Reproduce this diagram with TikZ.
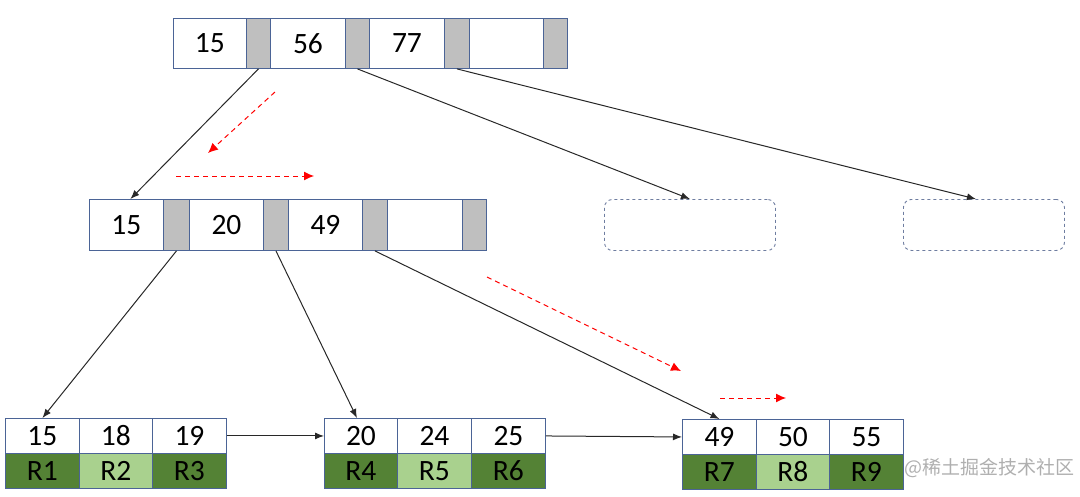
\documentclass[tikz,border=0pt]{standalone}
\usepackage{fontspec}
\setmainfont{Carlito}
\newfontfamily\cjk{Noto Sans CJK SC}
\usetikzlibrary{arrows.meta}
\definecolor{cellborder}{RGB}{75,100,150}
\definecolor{ptrgray}{RGB}{191,191,191}
\definecolor{dgreen}{RGB}{84,130,53}
\definecolor{lgreen}{RGB}{169,209,142}
\definecolor{dashbox}{RGB}{110,125,160}
\definecolor{linkc}{RGB}{40,40,40}
\definecolor{wm}{RGB}{175,175,175}
\tikzset{
  cellbox/.style={draw=cellborder, line width=0.9pt, anchor=north west, inner sep=0pt, font=\fontsize{29.5}{32}\selectfont, text=black},
  ptr/.style={cellbox, fill=ptrgray},
  keyc/.style={cellbox, fill=white},
  dg/.style={cellbox, fill=dgreen},
  lg/.style={cellbox, fill=lgreen},
  emptybox/.style={draw=dashbox, dashed, line width=0.9pt, rounded corners=8pt, anchor=north west, minimum width=171pt, minimum height=51pt, inner sep=0pt},
  link/.style={draw=linkc, line width=1pt, -{Latex[length=9pt,width=7pt]}},
  redarrow/.style={draw=red, line width=1pt, dash pattern=on 5pt off 4pt, -{Latex[length=10pt,width=9pt]}}
}
\begin{document}
\begin{tikzpicture}[x=1pt,y=-1pt]
\useasboundingbox (0,0) rectangle (1080,496);
% top node
\node[keyc, minimum width=73pt, minimum height=50pt] (t1) at (173,18) {15};
\node[ptr, minimum width=24pt, minimum height=50pt] (tg1) at (246,18) {};
\node[keyc, minimum width=75pt, minimum height=50pt] (t2) at (270,18) {56};
\node[ptr, minimum width=24pt, minimum height=50pt] (tg2) at (345,18) {};
\node[keyc, minimum width=75pt, minimum height=50pt] (t3) at (369,18) {77};
\node[ptr, minimum width=25pt, minimum height=50pt] (tg3) at (444,18) {};
\node[keyc, minimum width=74pt, minimum height=50pt] (t4) at (469,18) {};
\node[ptr, minimum width=24pt, minimum height=50pt] (tg4) at (543,18) {};
% middle node
\node[keyc, minimum width=74pt, minimum height=51pt] (m1) at (89,199) {15};
\node[ptr, minimum width=26pt, minimum height=51pt] (mg1) at (163,199) {};
\node[keyc, minimum width=74pt, minimum height=51pt] (m2) at (189,199) {20};
\node[ptr, minimum width=25pt, minimum height=51pt] (mg2) at (263,199) {};
\node[keyc, minimum width=74pt, minimum height=51pt] (m3) at (288,199) {49};
\node[ptr, minimum width=25pt, minimum height=51pt] (mg3) at (362,199) {};
\node[keyc, minimum width=75pt, minimum height=51pt] (m4) at (387,199) {};
\node[ptr, minimum width=24pt, minimum height=51pt] (mg4) at (462,199) {};
% empty dashed boxes
\node[emptybox] (e1) at (604,199) {};
\node[emptybox, minimum width=161pt] (e2) at (903,199) {};
% leaf 1
\node[keyc, minimum width=74pt, minimum height=35pt] (a1) at (5,418) {15};
\node[keyc, minimum width=73pt, minimum height=35pt] (a2) at (79,418) {18};
\node[keyc, minimum width=74pt, minimum height=35pt] (a3) at (152,418) {19};
\node[dg, minimum width=74pt, minimum height=35pt] (ar1) at (5,453) {R1};
\node[lg, minimum width=73pt, minimum height=35pt] (ar2) at (79,453) {R2};
\node[dg, minimum width=74pt, minimum height=35pt] (ar3) at (152,453) {R3};
% leaf 2
\node[keyc, minimum width=73pt, minimum height=35pt] (b1) at (324,418) {20};
\node[keyc, minimum width=74pt, minimum height=35pt] (b2) at (397,418) {24};
\node[keyc, minimum width=74pt, minimum height=35pt] (b3) at (471,418) {25};
\node[dg, minimum width=73pt, minimum height=35pt] (br1) at (324,453) {R4};
\node[lg, minimum width=74pt, minimum height=35pt] (br2) at (397,453) {R5};
\node[dg, minimum width=74pt, minimum height=35pt] (br3) at (471,453) {R6};
% leaf 3
\node[keyc, minimum width=74pt, minimum height=35pt] (c1) at (682,419) {49};
\node[keyc, minimum width=73pt, minimum height=35pt] (c2) at (756,419) {50};
\node[keyc, minimum width=74pt, minimum height=35pt] (c3) at (829,419) {55};
\node[dg, minimum width=74pt, minimum height=35pt] (cr1) at (682,454) {R7};
\node[lg, minimum width=73pt, minimum height=35pt] (cr2) at (756,454) {R8};
\node[dg, minimum width=74pt, minimum height=35pt] (cr3) at (829,454) {R9};
% watermark
\node[anchor=west, inner sep=0pt, text=wm, font=\cjk\fontsize{19}{22}\selectfont] (wmark) at (904,468) {@稀土掘金技术社区};
% connectors
\draw[link] (tg1.south) -- ([xshift=4pt]m1.north);
\draw[link] (tg2.south) -- (e1.north);
\draw[link] (tg3.south) -- ([xshift=-8pt]e2.north);
\draw[link] (mg1.south) -- (a1.north);
\draw[link] (mg2.south) -- ([xshift=-4pt]b1.north);
\draw[link] (mg3.south) -- (c1.north);
\draw[link] (a3.east) -- (b1.west);
\draw[link] (b3.east) -- (c1.west);
% red search path
\coordinate (r1s) at (275,92);
\coordinate (r1e) at (208,153);
\coordinate (r2s) at (176,176);
\coordinate (r2e) at (314,176);
\coordinate (r3s) at (487,277);
\coordinate (r3e) at (681,371);
\coordinate (r4s) at (720,398);
\coordinate (r4e) at (786,398);
\draw[redarrow] (r1s) -- (r1e);
\draw[redarrow] (r2s) -- (r2e);
\draw[redarrow] (r3s) -- (r3e);
\draw[redarrow] (r4s) -- (r4e);
\end{tikzpicture}
\end{document}
